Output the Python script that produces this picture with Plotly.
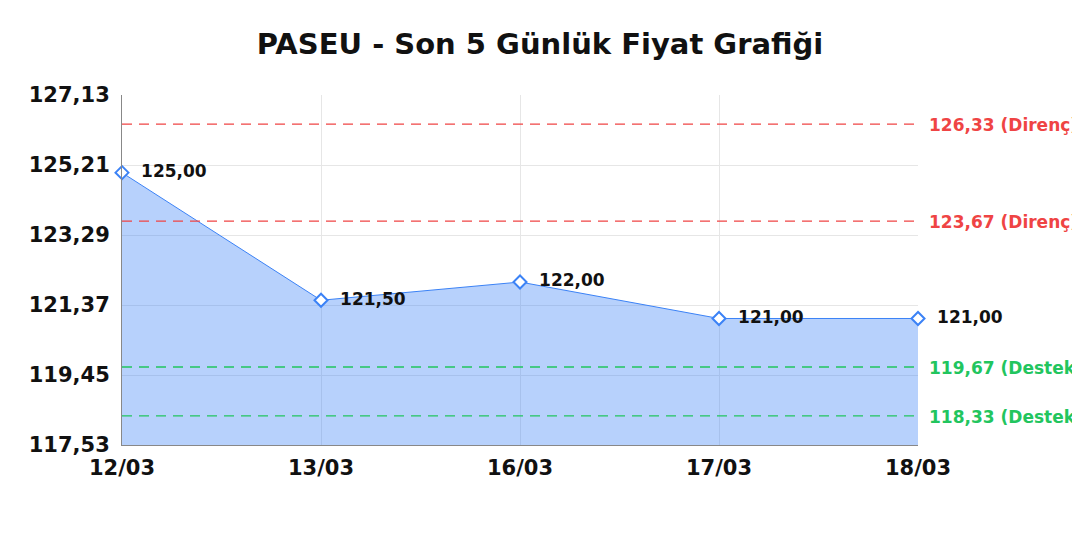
import plotly.graph_objects as go

dates = ["12/03", "13/03", "16/03", "17/03", "18/03"]
prices = [125.00, 121.50, 122.00, 121.00, 121.00]
price_labels = ["125,00", "121,50", "122,00", "121,00", "121,00"]

y_ticks = [117.53, 119.45, 121.37, 123.29, 125.21, 127.13]
y_tick_labels = ["117,53", "119,45", "121,37", "123,29", "125,21", "127,13"]

resistance = [126.33, 123.67]
resistance_labels = ["126,33 (Direnç)", "123,67 (Direnç)"]
support = [119.67, 118.33]
support_labels = ["119,67 (Destek)", "118,33 (Destek)"]

BLUE = "#3b82f6"
RED = "#ef4444"
GREEN = "#22c55e"
FONT = "DejaVu Sans"

fig = go.Figure()
fig.add_trace(
    go.Scatter(
        x=dates,
        y=prices,
        mode="lines+markers+text",
        fill="tozeroy",
        fillcolor="rgba(59,130,246,0.37)",
        line=dict(color=BLUE, width=1),
        marker=dict(symbol="diamond", size=10, color="white", line=dict(color=BLUE, width=2)),
        text=["  " + t for t in price_labels],
        textposition="middle right",
        textfont=dict(family=FONT, size=17, color="#111111", weight="bold"),
        cliponaxis=False,
        hoverinfo="x+y",
        showlegend=False,
    )
)

# destek / direnç seviyeleri
levels = [(v, l, RED) for v, l in zip(resistance, resistance_labels)]
levels += [(v, l, GREEN) for v, l in zip(support, support_labels)]
for value, label, color in levels:
    fig.add_shape(
        type="line", xref="paper", yref="y", x0=0, x1=1, y0=value, y1=value,
        line=dict(color=color, width=1.3, dash="10px,7px"), layer="above",
    )
    fig.add_annotation(
        xref="paper", yref="y", x=1, y=value, text=label, showarrow=False,
        xanchor="left", xshift=9, yshift=-1,
        font=dict(family=FONT, size=17, color=color, weight="bold"),
    )

fig.update_layout(
    width=1080,
    height=540,
    margin=dict(l=114, r=170, t=87, b=103),
    paper_bgcolor="white",
    plot_bgcolor="white",
    title=dict(
        text="<b>PASEU - Son 5 Günlük Fiyat Grafiği</b>",
        x=532 / 1080, xref="container", xanchor="center", y=0.952, yanchor="top",
        font=dict(family=FONT, size=29, color="#111111"),
    ),
    font=dict(family=FONT),
)
fig.update_xaxes(
    type="category",
    range=[0, len(dates) - 1],
    showgrid=True,
    gridcolor="#e6e6e6",
    showline=True,
    linecolor="#888888",
    linewidth=1,
    ticks="",
    tickfont=dict(family=FONT, size=21, color="#111111", weight="bold"),
    ticklabelstandoff=4,
)
fig.update_yaxes(
    range=[y_ticks[0], y_ticks[-1]],
    tickvals=y_ticks,
    ticktext=y_tick_labels,
    showgrid=True,
    gridcolor="#e6e6e6",
    showline=True,
    linecolor="#888888",
    linewidth=1,
    zeroline=False,
    ticks="",
    tickfont=dict(family=FONT, size=21, color="#111111", weight="bold"),
    ticklabelstandoff=7,
)

fig.write_html("out.html")
